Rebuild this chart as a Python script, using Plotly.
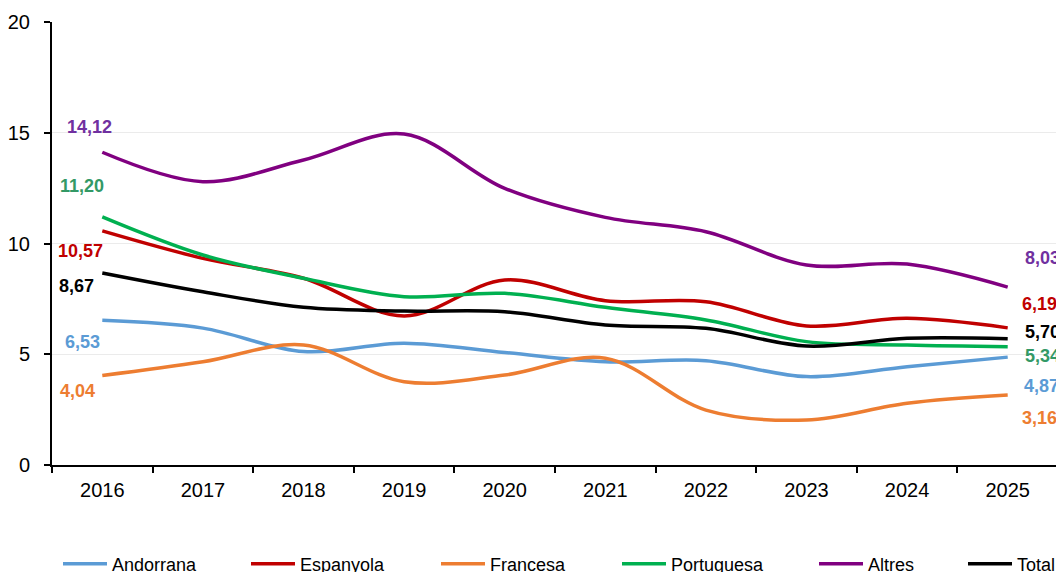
import plotly.graph_objects as go

years = ["2016", "2017", "2018", "2019", "2020", "2021", "2022", "2023", "2024", "2025"]

andorrana = [6.53, 6.18, 5.12, 5.50, 5.08, 4.66, 4.71, 3.99, 4.44, 4.87]
espanyola = [10.57, 9.33, 8.43, 6.73, 8.35, 7.42, 7.37, 6.28, 6.62, 6.19]
francesa = [4.04, 4.66, 5.42, 3.76, 4.06, 4.82, 2.48, 2.03, 2.79, 3.16]
portuguesa = [11.20, 9.48, 8.43, 7.60, 7.75, 7.12, 6.55, 5.57, 5.42, 5.34]
altres = [14.12, 12.79, 13.77, 14.94, 12.49, 11.18, 10.53, 9.03, 9.07, 8.03]
total = [8.67, 7.82, 7.12, 6.95, 6.92, 6.32, 6.17, 5.37, 5.72, 5.70]

series_names = ["Andorrana", "Espanyola", "Francesa", "Portuguesa", "Altres", "Total"]
series_values = [andorrana, espanyola, francesa, portuguesa, altres, total]

line_colors = ["#5B9BD5", "#C00000", "#ED7D31", "#00B050", "#800080", "#000000"]
label_colors = ["#5B9BD5", "#C00000", "#ED7D31", "#339966", "#7030A0", "#000000"]

# label offsets in pixels (first point, last point)
first_shift = [(-20, -22), (-22, -20), (-25, -15), (-20, 31), (-13, 25), (-26, -13)]
last_shift = [(34, -29), (32, 24), (32, -23), (35, -9), (35, 29), (35, 7)]

# page offset (browser body margin) and legend text start positions in px (page)
OFF = 8
legend_text_x = [112, 300, 490, 671, 868, 1017]
LEG_ITEM_W = 44

W, H = 1064 - OFF, 572 - OFF

fig = go.Figure()
for i, (name, vals) in enumerate(zip(series_names, series_values)):
    fig.add_trace(go.Scatter(
        x=years, y=vals, name=name, mode="lines",
        line=dict(color=line_colors[i], width=3.5, shape="spline", smoothing=1.0),
        legend="legend" if i == 0 else f"legend{i+1}",
        hoverinfo="skip",
    ))

annotations = []
for i, vals in enumerate(series_values):
    for idx, sh in ((0, first_shift[i]), (len(vals) - 1, last_shift[i])):
        annotations.append(dict(
            x=idx, y=vals[idx], xref="x", yref="y",
            text=f"{vals[idx]:.2f}".replace(".", ","),
            showarrow=False, xshift=sh[0], yshift=sh[1],
            font=dict(family="Liberation Sans, Arial", size=18, color=label_colors[i], weight="bold"),
            xanchor="center", yanchor="middle",
        ))

legend_layout = {}
for i in range(len(series_names)):
    key = "legend" if i == 0 else f"legend{i+1}"
    legend_layout[key] = dict(
        xref="container", yref="container",
        x=(legend_text_x[i] - 48 - (LEG_ITEM_W - 30)) / W, y=(572 - 563 - 1) / H,
        xanchor="left", yanchor="middle",
        orientation="h", bgcolor="rgba(0,0,0,0)",
        font=dict(family="Liberation Sans, Arial", size=18, color="#000000"),
        itemwidth=LEG_ITEM_W,
    )

fig.update_layout(
    width=W, height=H,
    margin=dict(l=52 - OFF, r=6, t=22 - OFF, b=107, autoexpand=False),
    paper_bgcolor="white", plot_bgcolor="white",
    showlegend=True,
    annotations=annotations,
    font=dict(family="Liberation Sans, Arial", color="#000000"),
    **legend_layout,
)

fig.update_xaxes(
    type="category", range=[-0.5, len(years) - 0.5], showline=True, linecolor="#000000", linewidth=2,
    ticks="outside", tickson="boundaries", ticklen=6, tickwidth=2, tickcolor="#000000",
    showgrid=False, tickfont=dict(size=20, family="Liberation Sans, Arial"),
    ticklabelstandoff=6, tickangle=0, automargin=False,
)
fig.update_yaxes(
    range=[0, 20], tickvals=[0, 5, 10, 15, 20], showline=True, linecolor="#000000", linewidth=2,
    ticks="outside", ticklen=6, tickwidth=2, tickcolor="#000000",
    showgrid=True, gridcolor="#EBEBEB", gridwidth=1, zeroline=False,
    tickfont=dict(size=20, family="Liberation Sans, Arial"),
    ticklabelstandoff=10, automargin=False,
)

fig.write_html("out.html")
